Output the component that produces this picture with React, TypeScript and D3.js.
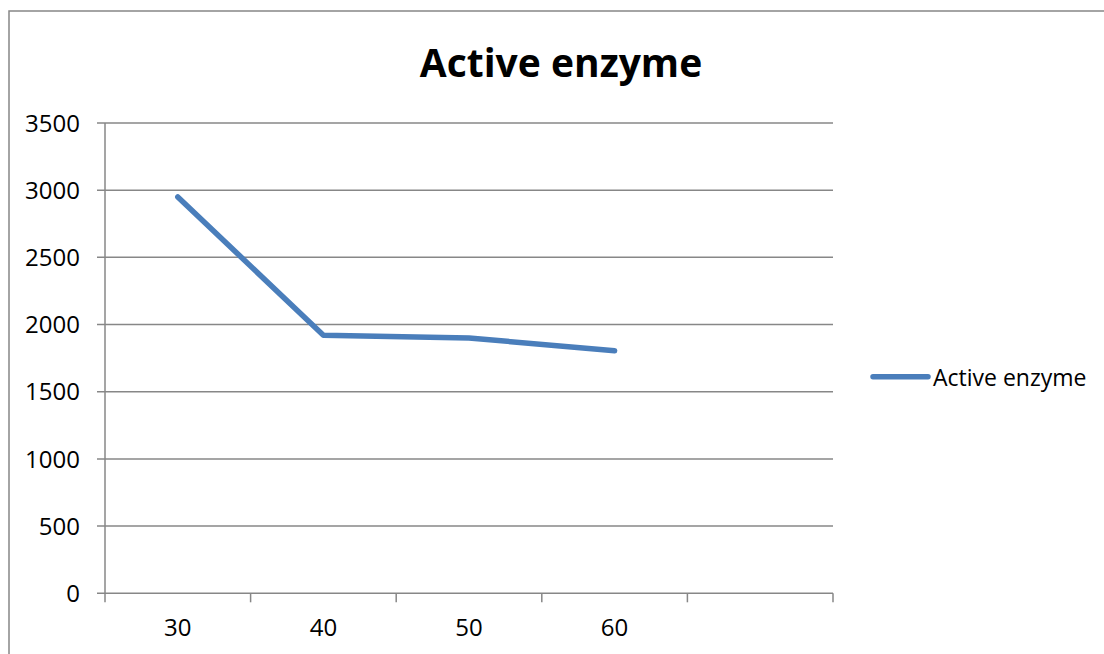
import React from "react";
import * as d3 from "d3";

// Categories along the x axis (the last slot is an empty category)
const categories: string[] = ["30", "40", "50", "60", ""];
// Series values for each labelled category
const seriesName = "Active enzyme";
const seriesValues: number[] = [2950, 1920, 1900, 1805];
// Y axis ticks
const yTicks: number[] = [0, 500, 1000, 1500, 2000, 2500, 3000, 3500];

const W = 1104;
const H = 654;
const plot = { left: 105, right: 833, top: 123, bottom: 593.3 };
const gridColor = "#878787";
const lineColor = "#4a7ebb";
const font = "'Open Sans', 'Noto Sans', sans-serif";

export default function App() {
  const x = d3
    .scaleBand<string>()
    .domain(categories)
    .range([plot.left, plot.right])
    .paddingInner(0)
    .paddingOuter(0);
  const y = d3.scaleLinear().domain([0, 3500]).range([plot.bottom, plot.top]);

  const points = seriesValues.map((v, i) => ({ c: categories[i], v }));
  const lineGen = d3
    .line<{ c: string; v: number }>()
    .x((d) => (x(d.c) as number) + x.bandwidth() / 2)
    .y((d) => y(d.v));

  // band edges for the category tick marks
  const edges = categories.map((c) => x(c) as number).concat([plot.right]);

  return (
    <svg
      width={W}
      height={H}
      style={{ position: "absolute", left: 0, top: 0, background: "#fff" }}
    >
      {/* chart frame */}
      <rect x={9} y={11} width={W + 20} height={H + 20} fill="#fff" stroke={gridColor} strokeWidth={1.5} />

      {/* title */}
      <text x={561} y={77} textAnchor="middle" fontFamily={font} fontWeight={700} fontSize={39} fill="#000">
        Active enzyme
      </text>

      {/* horizontal gridlines + y tick marks */}
      {yTicks.map((t) => (
        <g key={t}>
          <line x1={plot.left - 8} x2={plot.right} y1={y(t)} y2={y(t)} stroke={gridColor} strokeWidth={1.5} />
          <text
            x={80}
            y={y(t) + 8.7}
            textAnchor="end"
            fontFamily={font}
            fontSize={24}
            fill="#000"
          >
            {t}
          </text>
        </g>
      ))}

      {/* y axis line */}
      <line x1={plot.left} x2={plot.left} y1={plot.top} y2={plot.bottom} stroke={gridColor} strokeWidth={1.5} />

      {/* x tick marks at category edges */}
      {edges.map((e, i) => (
        <line key={i} x1={e} x2={e} y1={plot.bottom} y2={plot.bottom + 9} stroke={gridColor} strokeWidth={1.5} />
      ))}

      {/* x category labels */}
      {categories.map((c) => (
        <text
          key={c || "blank"}
          x={(x(c) as number) + x.bandwidth() / 2}
          y={636}
          textAnchor="middle"
          fontFamily={font}
          fontSize={24}
          fill="#000"
        >
          {c}
        </text>
      ))}

      {/* data series */}
      <path
        d={lineGen(points) || ""}
        fill="none"
        stroke={lineColor}
        strokeWidth={5.5}
        strokeLinecap="round"
        strokeLinejoin="round"
      />

      {/* legend */}
      <line x1={873} x2={928} y1={376.7} y2={376.7} stroke={lineColor} strokeWidth={5.5} strokeLinecap="round" />
      <text x={933} y={386} fontFamily={font} fontSize={23} fill="#000">
        {seriesName}
      </text>
    </svg>
  );
}
